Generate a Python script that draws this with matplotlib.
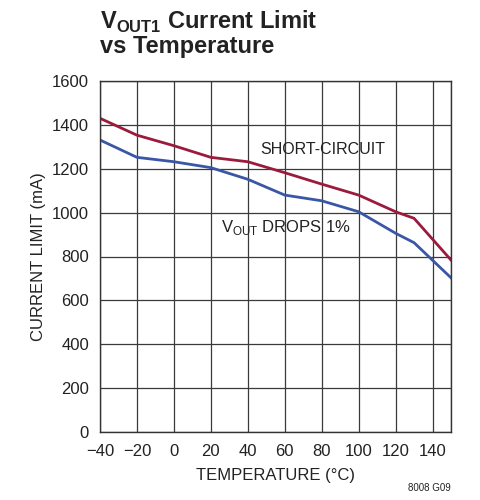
import matplotlib
matplotlib.use("Agg")
import matplotlib.pyplot as plt
from matplotlib import font_manager

names = {f.name for f in font_manager.fontManager.ttflist}
fam = "Liberation Sans Narrow" if "Liberation Sans Narrow" in names else "Liberation Sans"
plt.rcParams['font.family'] = [fam, 'DejaVu Sans']
plt.rcParams['mathtext.fontset'] = 'custom'
plt.rcParams['mathtext.rm'] = fam
plt.rcParams['mathtext.bf'] = fam + ':bold'

temp = [-40, -20, 0, 20, 40, 60, 80, 100, 120, 130, 150]
short_circuit = [1430, 1353, 1305, 1252, 1232, 1182, 1130, 1080, 1004, 974, 784]
vout_drops = [1331, 1252, 1232, 1205, 1152, 1080, 1054, 1004, 906, 863, 703]
xticks = [-40, -20, 0, 20, 40, 60, 80, 100, 120, 140]
xticklabels = ['\u221240', '\u221220', '0', '20', '40', '60', '80', '100', '120', '140']
yticks = list(range(0, 1601, 200))

fig = plt.figure(figsize=(4.8, 5.0), dpi=100)
ax = fig.add_axes([100/480, 68/500, 351/480, 351/500])
ax.set_xlim(-40, 150)
ax.set_ylim(0, 1600)
ax.set_xticks(xticks)
ax.set_xticklabels(xticklabels)
ax.set_xticks([150], minor=True)
ax.set_yticks(yticks)
ax.grid(True, which='both', color='#3a3a3a', linewidth=0.9)
ax.set_axisbelow(True)
ax.tick_params(which='both', length=0, labelsize=12, colors='#222222')
ax.tick_params(axis='x', pad=9)
ax.tick_params(axis='y', pad=8)
for s in ax.spines.values():
    s.set_color('#333333')
    s.set_linewidth(1.0)

ax.plot(temp, short_circuit, color='#9a1b3c', linewidth=2.0, solid_joinstyle='miter')
ax.plot(temp, vout_drops, color='#3a56a6', linewidth=2.0, solid_joinstyle='miter')

ax.text(46.5, 1290, 'SHORT-CIRCUIT', fontsize=11.5, color='#222222', va='center', ha='left')
ax.text(25.5, 930, r'V$_{\mathregular{OUT}}$ DROPS 1%', fontsize=12, color='#222222', va='center', ha='left')

ax.set_xlabel('TEMPERATURE (\u00b0C)', fontsize=12, color='#222222', labelpad=6)
ax.set_ylabel('CURRENT LIMIT (mA)', fontsize=12, color='#222222', labelpad=4)

fig.text(100/480, 1 - 9/500, r'V$_{\mathregular{OUT1}}$ Current Limit' + '\nvs Temperature',
         fontsize=17, fontweight='bold', color='#222222', ha='left', va='top', linespacing=1.0)
fig.text(451/480, 1 - 488/500, '8008 G09', fontsize=7, color='#222222', ha='right', va='center')

fig.savefig('out.png', dpi=100)
